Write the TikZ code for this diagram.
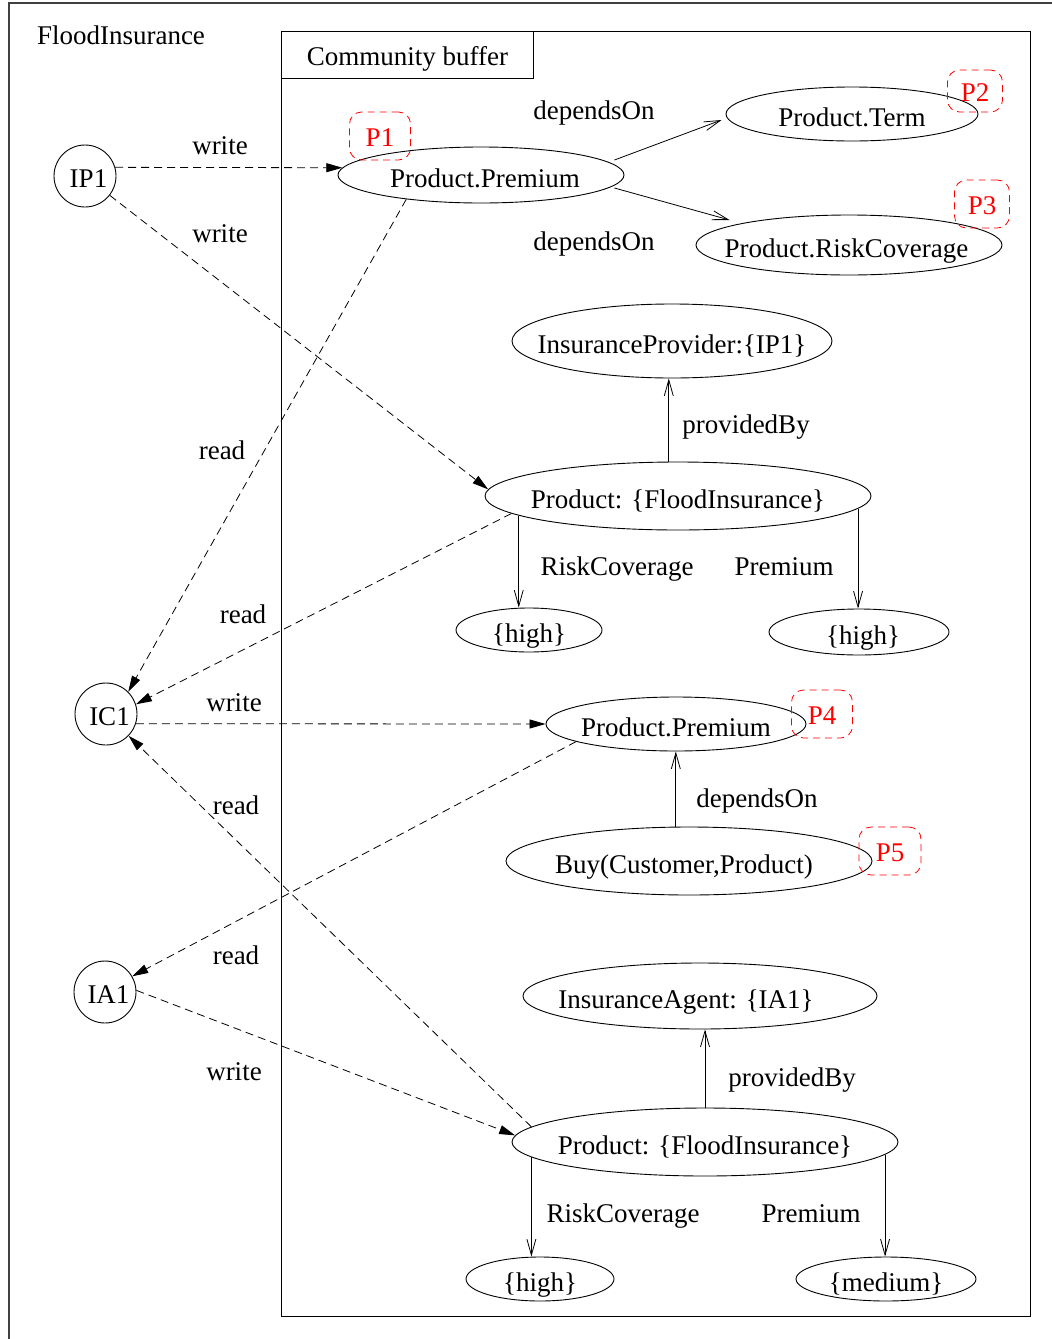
\documentclass[tikz,border=0pt]{standalone}
\usepackage{fontspec}
\setmainfont{Liberation Serif}
\usetikzlibrary{shapes.geometric,arrows.meta,calc}

% zero-width text so that the ellipse size is set only by minimum width/height
\newcommand\zw[1]{\makebox[0pt]{#1}}

\begin{document}
\begin{tikzpicture}[x=1pt,y=-1pt,
  every node/.style={font=\fontsize{27}{32}\selectfont, inner sep=0pt, text height=19pt, text depth=0pt},
  ell/.style={ellipse, draw, line width=0.9pt, text height=24pt},
  agent/.style={circle, draw, line width=0.9pt, minimum size=62pt, text height=23pt},
  pbox/.style={draw=red, text=red, line width=0.8pt, dash pattern=on 7pt off 5pt, rounded corners=12pt, text height=20pt},
  flow/.style={draw, line width=0.8pt, dash pattern=on 8pt off 5pt, -{Triangle[length=16pt,width=9pt]}},
  dep/.style={draw, line width=0.8pt, -{Straight Barb[length=16pt,width=9pt]}},
  frame/.style={draw, line width=0.9pt}
]
\useasboundingbox (0,0) rectangle (1052,1339);

% outer frame
\draw[line width=1.2pt, black!75] (9,1339) -- (9,3) -- (1052,3);
\node (fi) at (121,35) {FloodInsurance};

% community buffer
\node[frame, anchor=north west, minimum width=749pt, minimum height=1285pt] (buffer) at (281,31) {};
\node[frame, anchor=north west, minimum width=252pt, minimum height=47pt, text height=21pt] (cbtitle) at (281,31) {Community buffer};

% agents
\node[agent] (ip1) at (85,176) {\zw{\hspace{7pt}IP1}};
\node[agent] (ic1) at (106,714) {\zw{\hspace{7pt}IC1}};
\node[agent] (ia1) at (105,992) {\zw{\hspace{7pt}IA1}};

% facts in the buffer
\node[ell, minimum width=286pt, minimum height=56pt] (pp1) at (481,175) {\zw{\hspace{8pt}Product.Premium}};
\node[ell, minimum width=252pt, minimum height=54pt] (term) at (852,114) {\zw{Product.Term}};
\node[ell, minimum width=306pt, minimum height=60pt] (rc) at (849,245) {\zw{Product.RiskCoverage\hspace{5pt}}};
\node[ell, minimum width=320pt, minimum height=74pt] (iprov) at (672,341) {\zw{InsuranceProvider:\{IP1\}}};
\node[ell, minimum width=386pt, minimum height=68pt] (prod1) at (678,496) {\zw{Product: \{FloodInsurance\}}};
\node[ell, minimum width=146pt, minimum height=44pt] (hl) at (529,630) {\zw{\{high\}}};
\node[ell, minimum width=180pt, minimum height=46pt] (hr) at (859,632) {\zw{\hspace{8pt}\{high\}}};
\node[ell, minimum width=260pt, minimum height=54pt] (pp2) at (676,724) {\zw{Product.Premium}};
\node[ell, minimum width=366pt, minimum height=68pt] (buy) at (689,861) {\zw{Buy(Customer,Product)\hspace{10pt}}};
\node[ell, minimum width=354pt, minimum height=66pt] (iagent) at (700,996) {\zw{InsuranceAgent: \{IA1\}\hspace{28pt}}};
\node[ell, minimum width=386pt, minimum height=68pt] (prod2) at (705,1142) {\zw{Product: \{FloodInsurance\}}};
\node[ell, minimum width=148pt, minimum height=44pt] (hb) at (540,1279) {\zw{\{high\}}};
\node[ell, minimum width=180pt, minimum height=44pt] (med) at (886,1279) {\zw{\{medium\}}};

% provenance markers
\node[pbox, minimum width=61pt, minimum height=48pt] (p1) at (380,136) {P1};
\node[pbox, minimum width=55pt, minimum height=42pt] (p2) at (975,91) {P2};
\node[pbox, minimum width=55pt, minimum height=48pt] (p3) at (982,204) {P3};
\node[pbox, minimum width=61pt, minimum height=48pt] (p4) at (822,714) {P4};
\node[pbox, minimum width=62pt, minimum height=48pt] (p5) at (890,851) {P5};

% read / write flows
\draw[flow] (ip1.16) -- (pp1.177);
\draw[flow] (ip1.-38) -- (prod1.178);
\draw[flow] (pp1.198) -- (ic1.45);
\draw[flow] (prod1.186) -- (ic1.18);
\draw[flow] (ic1.-18) -- (pp2.180);
\draw[flow] (pp2.190) -- (ia1.30);
\draw[flow] (prod2.175) -- (ic1.-44);
\draw[flow] (ia1.3) -- (prod2.178);

\node (lw1) at (220,145) {write};
\node (lw2) at (220,233) {write};
\node (lr1) at (222,450) {read};
\node (lr2) at (243,614) {read};
\node (lw3) at (234,702) {write};
\node (lr3) at (236,805) {read};
\node (lr4) at (236,955) {read};
\node (lw4) at (234,1071) {write};

% relations between facts
\draw[dep] ([shift={(-10,-15)}]pp1.east) -- ([shift={(-4,6)}]term.west);
\draw[dep] ([shift={(-10,13)}]pp1.east) -- ([shift={(34,-25)}]rc.west);
\draw[dep] (prod1.105) -- (prod1.105 |- iprov.south);
\draw[dep] (prod1.187) -- (prod1.187 |- hl.north);
\draw[dep] (prod1.-4) -- (prod1.-4 |- hr.north);
\draw[dep] (buy.111) -- (buy.111 |- pp2.south);
\draw[dep] (prod2.north) -- (prod2.north |- iagent.south);
\draw[dep] (prod2.185) -- (prod2.185 |- hb.north);
\draw[dep] (prod2.-4) -- (prod2.-4 |- med.north);

\node (ld1) at (594,110) {dependsOn};
\node (ld2) at (594,241) {dependsOn};
\node (lp1) at (746,424) {providedBy};
\node (lrc1) at (617,566) {RiskCoverage};
\node (lpr1) at (784,566) {Premium};
\node (ld3) at (757,798) {dependsOn};
\node (lp2) at (792,1077) {providedBy};
\node (lrc2) at (623,1213) {RiskCoverage};
\node (lpr2) at (811,1213) {Premium};
\end{tikzpicture}
\end{document}
